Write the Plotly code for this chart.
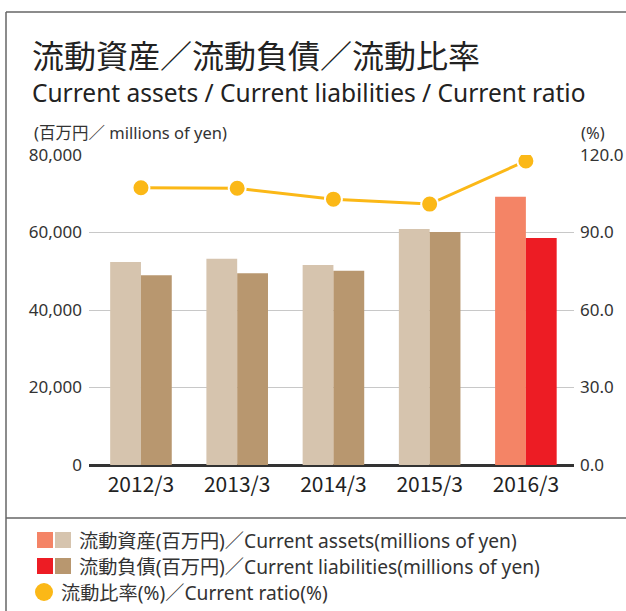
import plotly.graph_objects as go

# data
YEARS = ['2012/3', '2013/3', '2014/3', '2015/3', '2016/3']
ASSETS = [52400, 53200, 51600, 60900, 69200]
LIABILITIES = [49000, 49500, 50100, 60100, 58600]
RATIO = [107.3, 107.1, 102.9, 101.0, 117.7]

ASSET_COLORS = ['#d6c4ae'] * 4 + ['#f48466']
LIAB_COLORS = ['#b8976f'] * 4 + ['#ed1c24']
LINE_COLOR = '#fbb817'
FONT = 'Noto Sans CJK JP'
TEXT_FONT = 'Noto Sans, Noto Sans CJK JP'

W, H = 626, 611
L, R, T, B = 89, 52, 155, 146
PW, PH = W - L - R, H - T - B


def px_x(x):
    # pixel x -> paper x
    return (x - L) / PW


def px_y(y):
    # pixel y -> paper y
    return (H - B - y) / PH


fig = go.Figure()

fig.add_trace(go.Bar(x=YEARS, y=ASSETS, marker=dict(color=ASSET_COLORS, line=dict(width=0)),
                     name='assets'))
fig.add_trace(go.Bar(x=YEARS, y=LIABILITIES, marker=dict(color=LIAB_COLORS, line=dict(width=0)),
                     name='liabilities'))
fig.add_trace(go.Scatter(x=YEARS, y=RATIO, yaxis='y2', mode='lines+markers',
                         line=dict(color=LINE_COLOR, width=3),
                         marker=dict(size=17, color=LINE_COLOR, line=dict(color='white', width=2)),
                         name='ratio'))

fig.update_layout(
    width=W, height=H,
    margin=dict(l=L, r=R, t=T, b=B),
    paper_bgcolor='white', plot_bgcolor='white',
    font=dict(family=FONT, color='#333'),
    showlegend=False,
    barmode='group', bargap=0.36, bargroupgap=0,
    separators='.,',
    xaxis=dict(range=[-0.54, 4.5], showgrid=False, showline=False, ticks='', automargin=False,
               tickfont=dict(size=21, color='#222', family=FONT),
               ticklabelstandoff=5),
    yaxis=dict(range=[0, 80000], tickvals=[0, 20000, 40000, 60000, 80000], tickformat=',d',
               showgrid=True, gridcolor='#c8c8c8', gridwidth=1, automargin=False,
               zeroline=True, zerolinecolor='#333', zerolinewidth=2.5,
               tickfont=dict(size=17, color='#333', family=TEXT_FONT), ticklabelstandoff=6),
    yaxis2=dict(range=[0, 120], tickvals=[0, 30, 60, 90, 120], tickformat='.1f',
                overlaying='y', side='right', showgrid=False, zeroline=False, automargin=False,
                tickfont=dict(size=17, color='#333', family=TEXT_FONT), ticklabelstandoff=5),
)

# frame around the chart
border = dict(color='#666', width=1.5)
fig.add_shape(type='line', xref='paper', yref='paper', x0=px_x(6), x1=px_x(640),
              y0=px_y(12), y1=px_y(12), line=border)
fig.add_shape(type='line', xref='paper', yref='paper', x0=px_x(6), x1=px_x(6),
              y0=px_y(12), y1=px_y(620), line=border)
fig.add_shape(type='line', xref='paper', yref='paper', x0=px_x(6), x1=px_x(640),
              y0=px_y(518), y1=px_y(518), line=border)

# titles
fig.add_annotation(text='流動資産／流動負債／流動比率', xref='paper', yref='paper',
                   x=px_x(30), y=px_y(54), xanchor='left', yanchor='middle', showarrow=False,
                   font=dict(size=32, color='#222'))
fig.add_annotation(text='Current assets / Current liabilities / Current ratio', xref='paper', yref='paper',
                   x=px_x(30), y=px_y(92), xanchor='left', yanchor='middle', showarrow=False,
                   font=dict(size=24.5, color='#222', family=TEXT_FONT))
fig.add_annotation(text='(百万円／ millions of yen)', xref='paper', yref='paper',
                   x=px_x(32), y=px_y(133), xanchor='left', yanchor='middle', showarrow=False,
                   font=dict(size=16.5, color='#333', family=TEXT_FONT))
fig.add_annotation(text='(%)', xref='paper', yref='paper',
                   x=px_x(579), y=px_y(133), xanchor='left', yanchor='middle', showarrow=False,
                   font=dict(size=16.5, color='#333', family=TEXT_FONT))

# legend at the bottom
rows = [
    (540, ['#f48466', '#d6c4ae'], '流動資産(百万円)／Current assets(millions of yen)'),
    (566, ['#ed1c24', '#b8976f'], '流動負債(百万円)／Current liabilities(millions of yen)'),
]
for y, colors, label in rows:
    for i, c in enumerate(colors):
        x0 = 37 + i * 18
        fig.add_shape(type='rect', xref='paper', yref='paper', x0=px_x(x0), x1=px_x(x0 + 16),
                      y0=px_y(y - 8), y1=px_y(y + 8), fillcolor=c, line=dict(width=0))
    fig.add_annotation(text=label, xref='paper', yref='paper', x=px_x(77), y=px_y(y),
                       xanchor='left', yanchor='middle', showarrow=False,
                       font=dict(size=19.2, color='#333', family=TEXT_FONT))
fig.add_shape(type='circle', xref='paper', yref='paper', x0=px_x(35), x1=px_x(53),
              y0=px_y(583), y1=px_y(601), fillcolor=LINE_COLOR, line=dict(width=0))
fig.add_annotation(text='流動比率(%)／Current ratio(%)', xref='paper', yref='paper', x=px_x(59), y=px_y(592),
                   xanchor='left', yanchor='middle', showarrow=False,
                   font=dict(size=19.2, color='#333', family=TEXT_FONT))

# drop the default page margin so the figure sits at the window corner
fig.write_html("out.html", config={'displayModeBar': False},
               post_script="document.body.style.margin='0';")
